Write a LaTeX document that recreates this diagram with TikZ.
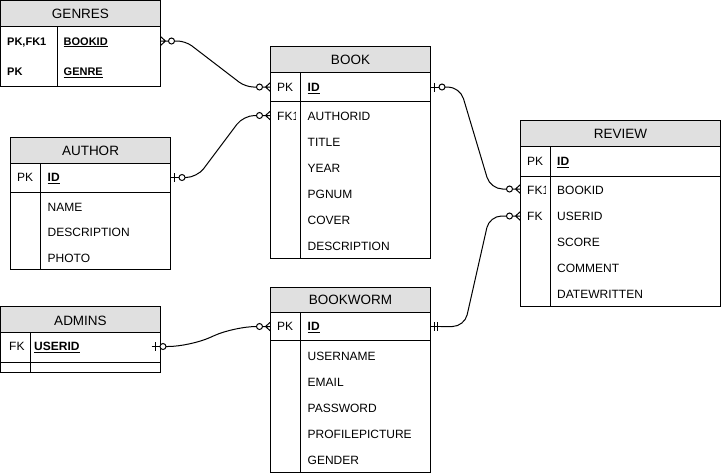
\documentclass[tikz,border=0pt]{standalone}
\usepackage{fontspec}
\setmainfont{Liberation Sans}
\definecolor{hdr}{RGB}{224,224,224}
\tikzset{
  tbl/.style={draw=black,line width=1pt},
  hdrbox/.style={draw=black,fill=hdr,line width=1pt},
  ttl/.style={font=\fontsize{13.5}{15}\selectfont,anchor=base,yshift=-4.8pt,inner sep=0pt},
  fld/.style={font=\fontsize{12}{14}\selectfont,anchor=base west,yshift=-4.3pt,inner sep=0pt},
  keyf/.style={font=\bfseries\fontsize{12}{14}\selectfont,anchor=base west,yshift=-4.3pt,inner sep=0pt},
  gkey/.style={font=\bfseries\fontsize{11}{13}\selectfont,anchor=base west,yshift=-4pt,inner sep=0pt},
  conn/.style={line width=1pt,rounded corners=#1},
  conn/.default=12pt,
  zmany/.pic={\draw[line width=1pt] (0,-4.5)--(5,0)--(0,4.5) (0,0)--(8,0);
              \draw[line width=1pt,fill=white] (11,0) circle[radius=3];},
  zone/.pic={\draw[line width=1pt] (0,0)--(8.5,0) (3.5,-4.5)--(3.5,4.5);
             \draw[line width=1pt,fill=white] (11.5,0) circle[radius=3];},
  mone/.pic={\draw[line width=1pt] (0,0)--(10,0) (3.5,-4.5)--(3.5,4.5) (6.5,-4.5)--(6.5,4.5);}
}
\begin{document}
\begin{tikzpicture}[x=1pt,y=-1pt]
\useasboundingbox (0,0) rectangle (721,475);

% ---------------- GENRES
\draw[hdrbox] (0.5,0.5) rectangle (160.5,26);
\draw[tbl] (0.5,26) rectangle (160.5,86);
\draw[tbl] (57,26) -- (57,86);
\node[ttl] (genres) at (80.5,14) {GENRES};
\node[gkey] (genres-k1) at (7,41) {PK,FK1};
\node[gkey] (genres-bookid) at (63.5,41) {\underline{BOOKID}};
\node[gkey] (genres-k2) at (7,71.5) {PK};
\node[gkey] (genres-genre) at (63.5,71.5) {\underline{GENRE}};
\coordinate (genres-p) at (160.5,41);

% ---------------- BOOK
\draw[hdrbox] (270.5,46) rectangle (430.5,72.5);
\draw[tbl] (270.5,72.5) rectangle (430.5,258);
\draw[tbl] (270.5,101) -- (430.5,101);
\draw[tbl] (300.5,72.5) -- (300.5,258);
\node[ttl] (book) at (350.5,59.5) {BOOK};
\node[fld] (book-pk) at (277,87) {PK};
\node[keyf] (book-id) at (307.5,87) {\underline{ID}};
\begin{scope}
\clip (271,102) rectangle (295,130);
\node[fld] (book-fk) at (277,116.5) {FK1};
\end{scope}
\node[fld] (book-f1) at (307.5,116.5) {AUTHORID};
\node[fld] (book-f2) at (307.5,142.5) {TITLE};
\node[fld] (book-f3) at (307.5,168.5) {YEAR};
\node[fld] (book-f4) at (307.5,194.5) {PGNUM};
\node[fld] (book-f5) at (307.5,220.5) {COVER};
\node[fld] (book-f6) at (307.5,246.5) {DESCRIPTION};
\coordinate (book-id-w) at (270.5,87);
\coordinate (book-id-e) at (430.5,87);
\coordinate (book-auth-w) at (270.5,115.5);

% ---------------- AUTHOR
\draw[hdrbox] (10.5,137) rectangle (170.5,163);
\draw[tbl] (10.5,163) rectangle (170.5,269.5);
\draw[tbl] (10.5,192.5) -- (170.5,192.5);
\draw[tbl] (40.5,163) -- (40.5,269.5);
\node[ttl] (author) at (90.5,150.5) {AUTHOR};
\node[fld] (author-pk) at (17,177.5) {PK};
\node[keyf] (author-id) at (47.5,177.5) {\underline{ID}};
\node[fld] (author-f1) at (47.5,207) {NAME};
\node[fld] (author-f2) at (47.5,232.5) {DESCRIPTION};
\node[fld] (author-f3) at (47.5,258) {PHOTO};
\coordinate (author-id-e) at (170.5,177.5);

% ---------------- REVIEW
\draw[hdrbox] (520.5,120.5) rectangle (720.5,146.5);
\draw[tbl] (520.5,146.5) rectangle (720.5,306);
\draw[tbl] (520.5,176) -- (720.5,176);
\draw[tbl] (550.5,146.5) -- (550.5,306);
\node[ttl] (review) at (620.5,134) {REVIEW};
\node[fld] (review-pk) at (527,161) {PK};
\node[keyf] (review-id) at (557,161) {\underline{ID}};
\begin{scope}
\clip (521,177) rectangle (545,203);
\node[fld] (review-fk1) at (527,190) {FK1};
\end{scope}
\node[fld] (review-fk2) at (527,216.5) {FK};
\node[fld] (review-f1) at (557,190) {BOOKID};
\node[fld] (review-f2) at (557,216.5) {USERID};
\node[fld] (review-f3) at (557,242.5) {SCORE};
\node[fld] (review-f4) at (557,268.5) {COMMENT};
\node[fld] (review-f5) at (557,294.5) {DATEWRITTEN};
\coordinate (review-book-w) at (520.5,189);
\coordinate (review-user-w) at (520.5,216);

% ---------------- BOOKWORM
\draw[hdrbox] (270.5,287) rectangle (430.5,312.5);
\draw[tbl] (270.5,312.5) rectangle (430.5,472);
\draw[tbl] (270.5,340.5) -- (430.5,340.5);
\draw[tbl] (300.5,312.5) -- (300.5,472);
\node[ttl] (bookworm) at (350.5,300) {BOOKWORM};
\node[fld] (bw-pk) at (277,326.5) {PK};
\node[keyf] (bw-id) at (307.5,326.5) {\underline{ID}};
\node[fld] (bw-f1) at (307.5,356.5) {USERNAME};
\node[fld] (bw-f2) at (307.5,382.5) {EMAIL};
\node[fld] (bw-f3) at (307.5,408.5) {PASSWORD};
\node[fld] (bw-f4) at (307.5,434.5) {PROFILEPICTURE};
\node[fld] (bw-f5) at (307.5,460.5) {GENDER};
\coordinate (bw-id-w) at (270.5,326.5);
\coordinate (bw-id-e) at (430.5,326.5);

% ---------------- ADMINS
\draw[hdrbox] (0.5,306.5) rectangle (160.5,332.5);
\draw[tbl] (0.5,332.5) rectangle (160.5,372);
\draw[tbl] (0.5,362.5) -- (160.5,362.5);
\draw[tbl] (30.5,332.5) -- (30.5,372);
\node[ttl] (admins) at (80.5,320.5) {ADMINS};
\node[fld] (admins-fk) at (9,346.5) {FK};
\node[keyf] (admins-uid) at (34,346.5) {\underline{USERID}};
\coordinate (admins-p) at (151.5,346.5);

% ---------------- markers
\pic at (genres-p) {zmany};
\pic[rotate=180] at (book-id-w) {zmany};
\pic[rotate=180] at (book-auth-w) {zmany};
\pic at (author-id-e) {zone};
\pic at (book-id-e) {zone};
\pic[rotate=180] at (review-book-w) {zmany};
\pic at (bw-id-e) {mone};
\pic[rotate=180] at (review-user-w) {zmany};
\pic at (admins-p) {zone};
\pic[rotate=180] at (bw-id-w) {zmany};

% ---------------- connector ends
\coordinate (e1s) at ([xshift=14pt]genres-p);
\coordinate (e1t) at ([xshift=-14pt]book-id-w);
\coordinate (e2s) at ([xshift=14.5pt]author-id-e);
\coordinate (e2t) at ([xshift=-14pt]book-auth-w);
\coordinate (e3s) at ([xshift=14.5pt]book-id-e);
\coordinate (e3t) at ([xshift=-14pt]review-book-w);
\coordinate (e4s) at ([xshift=10pt]bw-id-e);
\coordinate (e4t) at ([xshift=-14pt]review-user-w);
\coordinate (e5s) at ([xshift=14.5pt]admins-p);
\coordinate (e5t) at ([xshift=-14pt]bw-id-w);

% ---------------- connectors
\draw[conn=8pt] (e1s) -- ([xshift=11pt]e1s) -- ([xshift=-11pt]e1t) -- (e1t);
\draw[conn=11pt] (e2s) -- ([xshift=12pt]e2s) -- ([xshift=-13pt]e2t) -- (e2t);
\draw[conn=12pt] (e3s) -- ([xshift=15pt]e3s) -- ([xshift=-16pt]e3t) -- (e3t);
\draw[conn=12pt] (e4s) -- ([xshift=24pt]e4s) -- ([xshift=-17pt]e4t) -- (e4t);
\draw[conn=22pt] (e5s) -- ([xshift=24pt]e5s) -- ([xshift=-22pt]e5t) -- (e5t);
\end{tikzpicture}
\end{document}
